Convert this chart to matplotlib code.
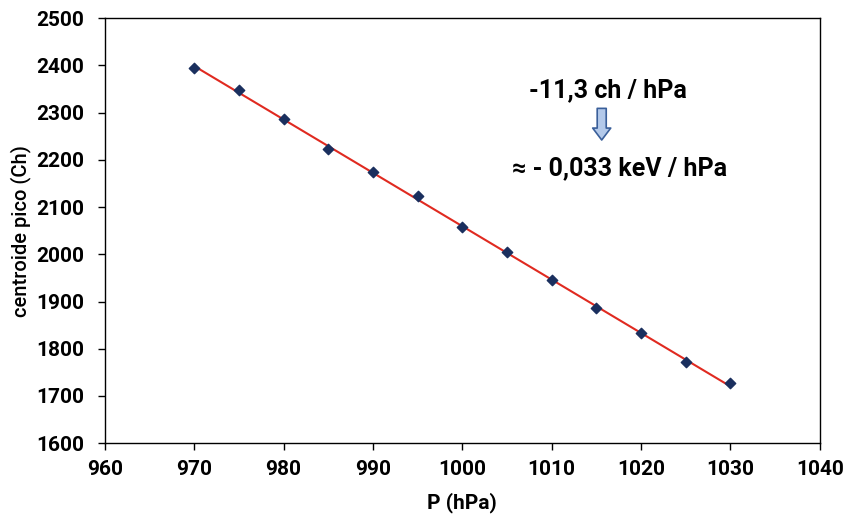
import numpy as np
import matplotlib.pyplot as plt

# Peak centroid vs pressure
pressure = [970, 975, 980, 985, 990, 995, 1000, 1005, 1010, 1015, 1020, 1025, 1030]
centroid = [2394, 2348, 2286, 2224, 2174, 2123, 2057, 2004, 1945, 1886, 1833, 1772, 1727]

x_ticks = [960, 970, 980, 990, 1000, 1010, 1020, 1030, 1040]
y_ticks = [1600, 1700, 1800, 1900, 2000, 2100, 2200, 2300, 2400, 2500]

plt.rcParams['font.family'] = ['Roboto', 'DejaVu Sans']
plt.rcParams['font.weight'] = 'bold'

fig = plt.figure(figsize=(8.53, 5.19), dpi=100)
ax = fig.add_axes([0.123, 0.146, 0.838, 0.819])

# linear trend line over the measured range
slope, intercept = np.polyfit(pressure, centroid, 1)
xs = np.array([pressure[0], pressure[-1]])
ax.plot(xs, slope * xs + intercept, color='#e02a20', linewidth=1.5, zorder=2)

ax.scatter(pressure, centroid, marker='D', s=28, color='#1a2f5e', zorder=3)

ax.set_xlim(960, 1040)
ax.set_ylim(1600, 2500)
ax.set_xticks(x_ticks)
ax.set_yticks(y_ticks)
ax.tick_params(axis='both', direction='out', length=5, width=1, labelsize=15)
ax.tick_params(axis='x', pad=7)
ax.tick_params(axis='y', pad=10)
for sp in ax.spines.values():
    sp.set_linewidth(1)
    sp.set_color('black')

ax.set_xlabel('P (hPa)', fontsize=15, fontweight='bold', labelpad=10)
ax.set_ylabel('centroide pico (Ch)', fontsize=14.5, fontweight='medium', labelpad=4)

# slope annotation
ax.text(1016.3, 2347, '-11,3 ch / hPa', fontsize=18, fontweight='bold',
        ha='center', va='center')
ax.annotate('', xy=(1015.6, 2242), xytext=(1015.6, 2309),
            arrowprops=dict(arrowstyle='simple,head_width=1.3,head_length=0.86,tail_width=0.65',
                            mutation_scale=10, shrinkA=0, shrinkB=0,
                            fc='#b3c9ea', ec='#3a5f9a', lw=1.2))
ax.text(1017.6, 2182, '≈ - 0,033 keV / hPa', fontsize=18, fontweight='bold',
        ha='center', va='center')

fig.savefig('out.png', dpi=100)
